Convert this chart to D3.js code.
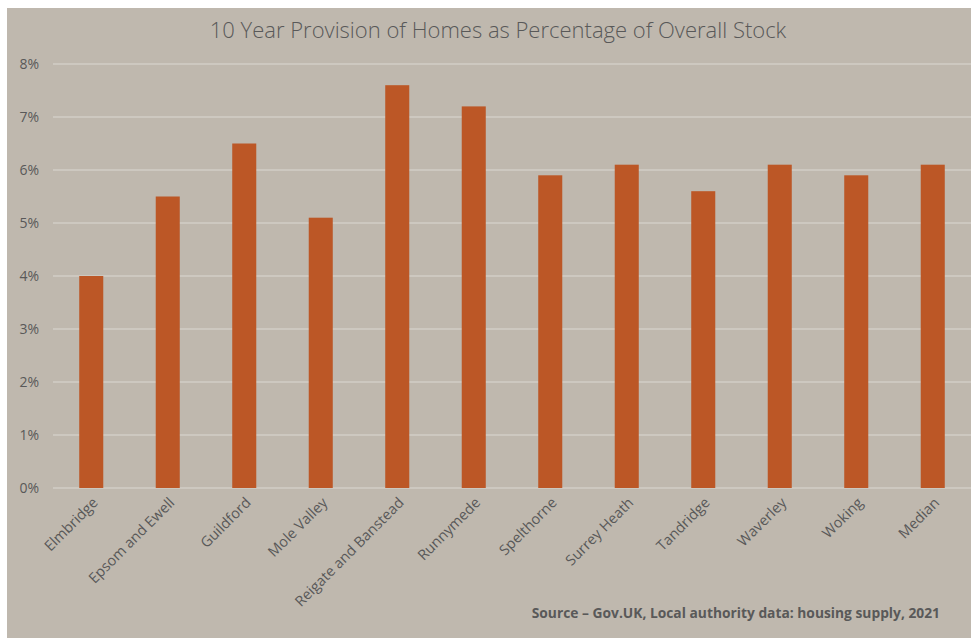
<!DOCTYPE html>
<html>
<head>
<meta charset="utf-8">
<script src="https://cdn.jsdelivr.net/npm/d3@7"></script>
<style>
  body { margin: 0; background: #fff; }
  svg { display: block; font-family: "Open Sans", sans-serif; }
</style>
</head>
<body>
<svg id="chart" width="971" height="638"></svg>
<script>
// data
var categories = ["Elmbridge", "Epsom and Ewell", "Guildford", "Mole Valley", "Reigate and Banstead",
  "Runnymede", "Spelthorne", "Surrey Heath", "Tandridge", "Waverley", "Woking", "Median"];
var values = [4.0, 5.5, 6.5, 5.1, 7.6, 7.2, 5.9, 6.1, 5.6, 6.1, 5.9, 6.1];
var yTicks = [0, 1, 2, 3, 4, 5, 6, 7, 8];

var svg = d3.select('#chart');

// panel background
svg.append('rect')
  .attr('x', 7).attr('y', 8)
  .attr('width', 964).attr('height', 630)
  .attr('fill', '#bfb8ae');

var plotLeft = 53, plotRight = 971, plotTop = 64, plotBottom = 488;

var x = d3.scaleBand()
  .domain(categories)
  .range([plotLeft, plotRight])
  .paddingInner(0.686)
  .paddingOuter(0.343);

var y = d3.scaleLinear()
  .domain([0, 8])
  .range([plotBottom, plotTop]);

// gridlines
svg.append('g')
  .selectAll('line')
  .data(yTicks)
  .join('line')
  .attr('x1', plotLeft).attr('x2', plotRight)
  .attr('y1', d => y(d)).attr('y2', d => y(d))
  .attr('stroke', '#dcd8d2')
  .attr('stroke-width', 1.2);

// y labels
svg.append('g')
  .selectAll('text')
  .data(yTicks)
  .join('text')
  .attr('x', 39)
  .attr('y', d => y(d))
  .attr('dy', '0.35em')
  .attr('text-anchor', 'end')
  .attr('font-size', 14)
  .attr('fill', '#595959')
  .text(d => d + '%');

// bars
svg.append('g')
  .selectAll('rect')
  .data(values)
  .join('rect')
  .attr('x', (d, i) => x(categories[i]))
  .attr('y', d => y(d))
  .attr('width', x.bandwidth())
  .attr('height', d => y(0) - y(d))
  .attr('fill', '#bc5726');

// category labels, rotated
svg.append('g')
  .selectAll('text')
  .data(categories)
  .join('text')
  .attr('transform', d => 'translate(' + (x(d) + x.bandwidth() / 2 + 4) + ',' + (plotBottom + 12) + ') rotate(-45)')
  .attr('text-anchor', 'end')
  .attr('dy', '0.35em')
  .attr('font-size', 14.5)
  .attr('fill', '#595959')
  .text(d => d);

// title
svg.append('text')
  .attr('x', 498).attr('y', 38)
  .attr('text-anchor', 'middle')
  .attr('font-size', 22)
  .attr('font-weight', 300)
  .attr('fill', '#595959')
  .text('10 Year Provision of Homes as Percentage of Overall Stock');

// source note
svg.append('text')
  .attr('x', 940).attr('y', 618)
  .attr('text-anchor', 'end')
  .attr('font-size', 13.8)
  .attr('font-weight', 'bold')
  .attr('fill', '#595959')
  .text('Source \u2013 Gov.UK, Local authority data: housing supply, 2021');
</script>
</body>
</html>
